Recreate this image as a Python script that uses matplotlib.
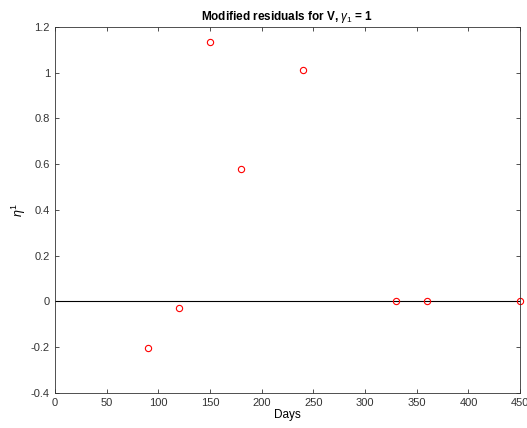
import matplotlib
matplotlib.use("Agg")
import matplotlib.pyplot as plt

plt.rcParams["font.family"] = ["Liberation Sans", "DejaVu Sans"]
plt.rcParams["mathtext.fontset"] = "custom"
plt.rcParams["mathtext.rm"] = "Liberation Sans"
plt.rcParams["mathtext.it"] = "Liberation Sans:italic"
plt.rcParams["mathtext.bf"] = "Liberation Sans:bold"

# residuals
days = [90, 120, 150, 180, 240, 330, 360, 450]
eta = [-0.205, -0.03, 1.135, 0.58, 1.01, 0.0, 0.0, 0.0]
xticks = [0, 50, 100, 150, 200, 250, 300, 350, 400, 450]
yticks = [-0.4, -0.2, 0, 0.2, 0.4, 0.6, 0.8, 1, 1.2]
ylabels = ["-0.4", "-0.2", "0", "0.2", "0.4", "0.6", "0.8", "1", "1.2"]

fig = plt.figure(figsize=(5.27, 4.28), dpi=100)
ax = fig.add_axes([0.104, 0.082, 0.883, 0.855])

ax.axhline(0, color="black", linewidth=0.8)
ax.plot(days, eta, linestyle="none", marker="o", markersize=4.5,
        markerfacecolor="none", markeredgecolor="red", markeredgewidth=0.8,
        clip_on=False)

ax.set_xlim(0, 450)
ax.set_ylim(-0.4, 1.2)
ax.set_xticks(xticks)
ax.set_yticks(yticks)
ax.set_yticklabels(ylabels)
ax.tick_params(direction="in", top=True, right=True, labelsize=8,
               colors="#333333", length=3, width=0.6)
for s in ax.spines.values():
    s.set_linewidth(0.6)
    s.set_color("#333333")

ax.set_xlabel("Days", fontsize=8.5, labelpad=1)
ax.set_ylabel(r"$\eta^1$", fontsize=9, labelpad=2)
ax.set_title(r"Modified residuals for V, $\gamma_1$ = 1", fontsize=8.5,
             fontweight="bold", pad=5)

fig.savefig("out.png", dpi=100)
